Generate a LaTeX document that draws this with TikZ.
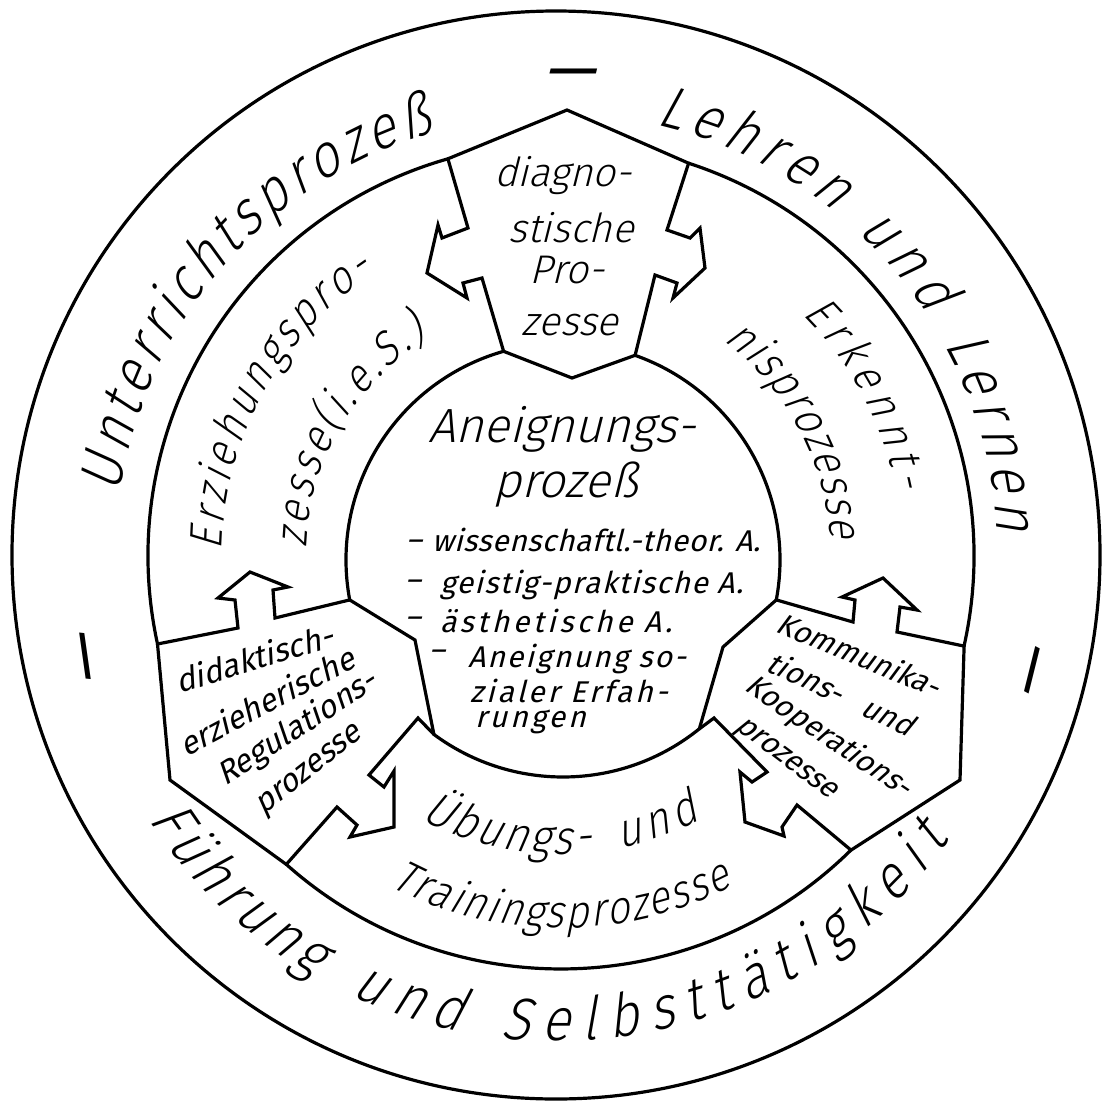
\documentclass[tikz,border=0pt]{standalone}
\usepackage{fontspec}
\usetikzlibrary{decorations.text}
\IfFontExistsTF{Fira Sans Light}{%
  \newfontfamily\hand{Fira Sans Light}[FakeSlant=0.25]%
  \newfontfamily\handn{Fira Sans Light}[FakeSlant=0.25,FakeStretch=0.88]%
}{%
  \newfontfamily\hand{Fira Sans}[FakeSlant=0.25]%
  \newfontfamily\handn{Fira Sans}[FakeSlant=0.25,FakeStretch=0.88]%
}
\newfontfamily\handr{Fira Sans}[FakeSlant=0.25]
\newcommand\hfs[1]{\fontsize{#1}{#1}\selectfont}
\begin{document}
\begin{tikzpicture}[x=1pt,y=-1pt,
  ln/.style={line width=3.2pt,line join=miter,line cap=round},
  lbl/.style={inner sep=0pt,outer sep=0pt},
  arctext/.style={decorate,decoration={text along path,text align=fit to path,text={#1}}}]
\useasboundingbox (0,0) rectangle (1106,1101);
\fill[white] (0,0) rectangle (1106,1101);

% ---------- circles ----------
\draw[ln] (556,555) circle[radius=544];
% middle circle arcs (centre 561,556  r 413)
\draw[ln] ([shift={(-105.9:413)}]561,556) arc[start angle=-105.9,end angle=-192.3,radius=413];
\draw[ln] ([shift={(-72:413)}]561,556) arc[start angle=-72,end angle=12.6,radius=413];
\draw[ln] ([shift={(45.4:413)}]561,556) arc[start angle=45.4,end angle=131.7,radius=413];
% inner circle arcs (centre 563,560  r 217)
\draw[ln] ([shift={(-105.9:217)}]563,560) arc[start angle=-105.9,end angle=-190.6,radius=217];
\draw[ln] ([shift={(-70.6:217)}]563,560) arc[start angle=-70.6,end angle=10.6,radius=217];
\draw[ln] ([shift={(51.1:217)}]563,560) arc[start angle=51.1,end angle=126.5,radius=217];

% ---------- diagnostic box ----------
\draw[ln] (447.9,158.8) -- (567,110) -- (688.6,163.2);
\draw[ln] (503.6,351.3) -- (572,378) -- (635.1,355.3);
\draw[ln] (447.9,158.8) -- (468,228) -- (442,238) -- (438,225) -- (427,273) -- (467,298) -- (463,283) -- (482,278) -- (503.6,351.3);
\draw[ln] (688.6,163.2) -- (667,230) -- (690,238) -- (700,228) -- (705,268) -- (673,298) -- (677,283) -- (655,275) -- (635.1,355.3);

% ---------- didaktisch box ----------
\draw[ln] (157.5,644.0) -- (170,780) -- (286.3,864.4);
\draw[ln] (157.5,644.0) -- (238,628) -- (235,600) -- (218,598) -- (250,572) -- (288,587) -- (273,590) -- (275,618) -- (349.7,599.9);
\draw[ln] (349.7,599.9) -- (415,640) -- (433.9,734.4);
\draw[ln] (433.9,734.4) -- (418,718) -- (369,775) -- (384,787) -- (394,771) -- (394,827) -- (350,837) -- (357,825) -- (337,807) -- (286.3,864.4);

% ---------- Kommunikation box ----------
\draw[ln] (964.1,646.1) -- (960,780) -- (851.0,850.1);
\draw[ln] (776.3,599.9) -- (853,622) -- (855,600) -- (842,597) -- (883,578) -- (917,610) -- (900,607) -- (897,632) -- (964.1,646.1);
\draw[ln] (776.3,599.9) -- (723,647) -- (699.3,728.9);
\draw[ln] (699.3,728.9) -- (714,718) -- (767,772) -- (752,782) -- (740,772) -- (745,822) -- (784,836) -- (782,827) -- (797,805) -- (851.0,850.1);

% ---------- outer ring texts (centre 556,555) ----------
\path[arctext={|\handn\hfs{60}|Unterrichtsprozeß}]
  ([shift={(-172:440)}]556,555) arc[start angle=-172,end angle=-106,radius=440];
\path[arctext={|\handn\hfs{60}|Lehren}]
  ([shift={(-77:442)}]556,555) arc[start angle=-77,end angle=-51,radius=442];
\path[arctext={|\handn\hfs{60}|und}]
  ([shift={(-47:442)}]556,555) arc[start angle=-47,end angle=-33,radius=442];
\path[arctext={|\handn\hfs{60}|Lernen}]
  ([shift={(-28.5:442)}]556,555) arc[start angle=-28.5,end angle=-3,radius=442];
\path[arctext={|\handn\hfs{60}|Führung}]
  ([shift={(-213:486)}]556,555) arc[start angle=-213,end angle=-240,radius=486];
\path[arctext={|\handn\hfs{60}|und}]
  ([shift={(-245:486)}]556,555) arc[start angle=-245,end angle=-258.5,radius=486];
\path[arctext={|\handn\hfs{60}|Selbsttätigkeit}]
  ([shift={(-263.5:486)}]556,555) arc[start angle=-263.5,end angle=-324,radius=486];
\node[lbl,font=\handr\hfs{64}] (dtop) at (569,80) {—};
\node[lbl,font=\handr\hfs{64},rotate=98] (dleft) at (95,660) {—};
\node[lbl,font=\handr\hfs{64},rotate=76] (dright) at (1040,677) {—};

% ---------- middle ring texts (centre 561,556) ----------
\path[arctext={|\handn\hfs{46}|Erziehungspro-}]
  ([shift={(-179:339)}]561,556) arc[start angle=-179,end angle=-123.5,radius=339];
\path[arctext={|\handn\hfs{46}|zesse(i.e.S.)}]
  ([shift={(-178:255)}]561,556) arc[start angle=-178,end angle=-121.5,radius=255];
\path[arctext={|\handn\hfs{46}|Erkennt-}]
  ([shift={(-45:342)}]561,556) arc[start angle=-45,end angle=-11,radius=342];
\path[arctext={|\handn\hfs{46}|nisprozesse}]
  ([shift={(-53:270)}]561,556) arc[start angle=-53,end angle=-3.5,radius=270];
\path[arctext={|\handn\hfs{48}|Übungs-}]
  ([shift={(-242:298)}]561,556) arc[start angle=-242,end angle=-276,radius=298];
\path[arctext={|\handn\hfs{48}|und}]
  ([shift={(-281.5:298)}]561,556) arc[start angle=-281.5,end angle=-298,radius=298];
\path[arctext={|\handn\hfs{46}|Trainingsprozesse}]
  ([shift={(-242.5:372)}]561,556) arc[start angle=-242.5,end angle=-297.5,radius=372];

% ---------- diagnostic text ----------
\node[lbl,font=\hand\hfs{40},anchor=base] (dg1) at (563,186) {diagno-};
\node[lbl,font=\hand\hfs{40},anchor=base] (dg2) at (571,242) {stische};
\node[lbl,font=\hand\hfs{40},anchor=base] (dg3) at (567,283) {Pro-};
\node[lbl,font=\hand\hfs{40},anchor=base] (dg4) at (570,335) {zesse};

% ---------- central text ----------
\node[lbl,font=\hand\hfs{48},anchor=base] (an1) at (562,442) {Aneignungs-};
\node[lbl,font=\hand\hfs{48},anchor=base] (an2) at (566,497) {prozeß};
\node[lbl,font={\handr\hfs{30}\addfontfeatures{LetterSpace=2}},anchor=base west] (li1) at (432,551) {wissenschaftl.-theor. A.};
\node[lbl,font={\handr\hfs{30}\addfontfeatures{LetterSpace=5}},anchor=base west] (li2) at (440,593) {geistig-praktische A.};
\node[lbl,font={\handr\hfs{30}\addfontfeatures{LetterSpace=12}},anchor=base west] (li3) at (440,632) {ästhetische A.};
\node[lbl,font={\handr\hfs{30}\addfontfeatures{LetterSpace=7}},anchor=base west] (li4) at (468,667) {Aneignung so-};
\node[lbl,font={\handr\hfs{30}\addfontfeatures{LetterSpace=10}},anchor=base west] (li5) at (470,702) {zialer Erfah-};
\node[lbl,font={\handr\hfs{30}\addfontfeatures{LetterSpace=10}},anchor=base west] (li6) at (475,727) {rungen};
\node[lbl,font=\handr\hfs{30}] (md1) at (414,545) {–};
\node[lbl,font=\handr\hfs{30}] (md2) at (413,585) {–};
\node[lbl,font=\handr\hfs{30}] (md3) at (413,622) {–};
\node[lbl,font=\handr\hfs{30}] (md4) at (437,655) {–};

% ---------- didaktisch text ----------
\node[lbl,font=\handr\hfs{32},rotate=17] (da1) at (254,658) {didaktisch-};
\node[lbl,font=\handr\hfs{32},rotate=28] (da2) at (266,701) {erzieherische};
\node[lbl,font=\handr\hfs{32},rotate=33] (da3) at (297,729) {Regulations-};
\node[lbl,font=\handr\hfs{32},rotate=38] (da4) at (310,772) {prozesse};

% ---------- Kommunikation text ----------
\node[lbl,font=\handr\hfs{30},rotate=-22.5] (ko1) at (859,654) {Kommunika-};
\node[lbl,font=\handr\hfs{30},rotate=-25] (ko2) at (841,693) {tions-\hspace{0.8em}und};
\node[lbl,font=\handr\hfs{30},rotate=-34] (ko3) at (828,737) {Kooperations-};
\node[lbl,font=\handr\hfs{30},rotate=-37] (ko4) at (785,760) {prozesse};
\end{tikzpicture}
\end{document}
